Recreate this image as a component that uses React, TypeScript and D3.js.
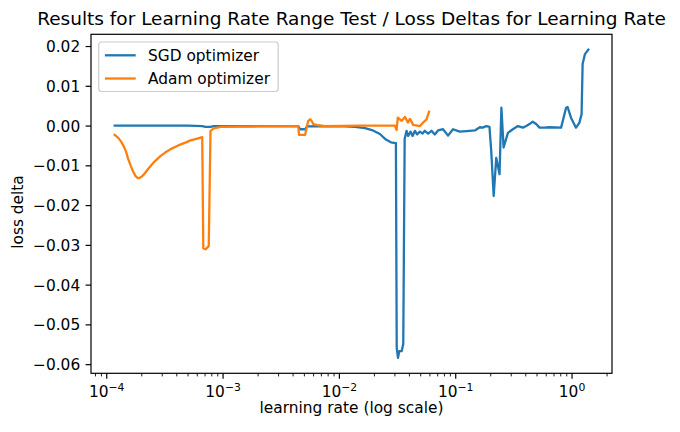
import React from "react";
import * as d3 from "d3";

const sgdLr = [
  1.17e-4, 2.5e-4, 5.0e-4, 6.62e-4, 7.06e-4, 7.8e-4, 8.32e-4, 1.5e-3, 3.0e-3, 4.43e-3,
  4.6e-3, 5.08e-3, 5.26e-3, 7.54e-3, 0.0112, 0.01363, 0.0166, 0.01905, 0.0223, 0.0251,
  0.0277, 0.0306, 0.0311, 0.0319, 0.0327, 0.0343, 0.0354, 0.0364, 0.0378, 0.039,
  0.0409, 0.0426, 0.0446, 0.0466, 0.0492, 0.0519, 0.0542, 0.0579, 0.0619, 0.0661,
  0.0705, 0.0778, 0.0859, 0.0948, 0.108, 0.132, 0.146, 0.161, 0.171, 0.183,
  0.195, 0.202, 0.212, 0.223, 0.238, 0.247, 0.258, 0.281, 0.31, 0.342,
  0.378, 0.404, 0.431, 0.459, 0.492, 0.525, 0.579, 0.638, 0.805, 0.889,
  0.916, 0.979, 1.081, 1.156, 1.208, 1.233, 1.291, 1.38,
];
const sgdLoss = [
  0.0001, 0.0001, 0.0001, 0.0, -0.0002, -0.0002, 0.0, 0.0, 0.0, 0.0,
  -0.0008, -0.0008, -0.0001, 0.0, -0.0001, -0.0002, -0.0005, -0.001, -0.002, -0.0034,
  -0.0041, -0.0043, -0.0558, -0.0583, -0.0566, -0.0566, -0.0548, -0.0032, -0.0012, -0.0025,
  -0.0014, -0.0025, -0.0012, -0.0021, -0.0014, -0.0019, -0.0012, -0.0019, -0.0012, -0.0021,
  -0.0011, -0.0008, -0.0024, -0.0008, -0.0014, -0.0012, -0.0011, -0.0003, -0.0004, 0.0,
  -0.0002, -0.0063, -0.0176, -0.008, -0.0121, 0.0046, -0.0054, -0.0017, -0.0008, 0.0,
  -0.0004, 0.0, 0.0005, 0.0011, 0.0005, -0.0004, -0.0004, -0.0003, -0.0004, 0.0046,
  0.0048, 0.0021, -0.0004, 0.0008, 0.003, 0.0156, 0.0181, 0.0192,
];

const adamLr = [
  1.17e-4, 1.25e-4, 1.32e-4, 1.39e-4, 1.46e-4, 1.53e-4, 1.61e-4, 1.69e-4, 1.77e-4, 1.85e-4,
  1.92e-4, 2.0e-4, 2.09e-4, 2.2e-4, 2.39e-4, 2.6e-4, 2.91e-4, 3.2e-4, 3.55e-4, 3.9e-4,
  4.32e-4, 4.8e-4, 5.26e-4, 5.9e-4, 6.62e-4, 6.76e-4, 7.06e-4, 7.53e-4, 7.8e-4, 8.32e-4,
  9.51e-4, 2.0e-3, 4.43e-3, 4.5e-3, 5.08e-3, 5.26e-3, 5.4e-3, 5.61e-3, 5.8e-3, 5.96e-3,
  6.57e-3, 7.54e-3, 0.015, 0.03, 0.031, 0.0318, 0.0343, 0.0366, 0.0388, 0.0404,
  0.0431, 0.0492, 0.0525, 0.0561, 0.059,
];
const adamLoss = [
  -0.0022, -0.0029, -0.0038, -0.0049, -0.0063, -0.0083, -0.01, -0.0115, -0.0126, -0.0131,
  -0.013, -0.0127, -0.0121, -0.0113, -0.01, -0.0088, -0.0075, -0.0066, -0.0058, -0.0052,
  -0.0046, -0.0041, -0.0036, -0.0032, -0.0028, -0.0307, -0.031, -0.0302, -0.0012, -0.0006,
  -0.0002, -0.0001, 0.0, -0.0022, -0.0022, 0.0, 0.0013, 0.0017, 0.0012, 0.0005,
  0.0002, 0.0, 0.0001, 0.0001, -0.001, 0.0021, 0.0013, 0.0023, 0.0009, 0.0018,
  0.0003, 0.0, 0.0009, 0.0017, 0.0036,
];

const seriesNames = ["SGD optimizer", "Adam optimizer"];
const seriesColors = ["#1f77b4", "#ff7f0e"];
const xMajorTicks = [1e-4, 1e-3, 1e-2, 1e-1, 1];
const xMajorExps = ["−4", "−3", "−2", "−1", "0"];
const yTicks = [-0.06, -0.05, -0.04, -0.03, -0.02, -0.01, 0.0, 0.01, 0.02];

const titleText = "Results for Learning Rate Range Test / Loss Deltas for Learning Rate";
const xLabel = "learning rate (log scale)";
const yLabel = "loss delta";

const W = 680;
const H = 432;
const L = 91;
const R = 612;
const T = 34.3;
const B = 373.3;
const FONT = "DejaVu Sans";
const FS = 15.4;

export default function App() {
  const allLr = [...sgdLr, ...adamLr];
  const allLoss = [...sgdLoss, ...adamLoss];
  const lo = Math.log10(d3.min(allLr)!);
  const hi = Math.log10(d3.max(allLr)!);
  const px = 0.05 * (hi - lo);
  const x = d3.scaleLog().domain([10 ** (lo - px), 10 ** (hi + px)]).range([L, R]);
  const yMin = d3.min(allLoss)!;
  const yMax = d3.max(allLoss)!;
  const py = 0.05 * (yMax - yMin);
  const y = d3.scaleLinear().domain([yMin - py, yMax + py]).range([B, T]);

  const [d0, d1] = x.domain();
  const minor = x
    .ticks()
    .filter((t) => t >= d0 && t <= d1)
    .filter((t) => Math.abs(Math.log10(t) - Math.round(Math.log10(t))) > 1e-6);

  const line = d3
    .line<[number, number]>()
    .x((d) => x(d[0]))
    .y((d) => y(d[1]));

  const sgdPts = sgdLr.map((v, i) => [v, sgdLoss[i]] as [number, number]);
  const adamPts = adamLr.map((v, i) => [v, adamLoss[i]] as [number, number]);
  const series = [sgdPts, adamPts];

  const fmt = (v: number) => (v < -1e-9 ? "−" + Math.abs(v).toFixed(2) : Math.abs(v).toFixed(2));

  const legX = L + 7.7;
  const legY = T + 7.7;

  return (
    <svg
      width={W}
      height={H}
      style={{ position: "absolute", left: 0, top: 0 }}
      fontFamily={FONT}
    >
      <rect x={0} y={0} width={W} height={H} fill="#ffffff" />
      <defs>
        <clipPath id="plotclip">
          <rect x={L} y={T} width={R - L} height={B - T} />
        </clipPath>
      </defs>
      {series.map((pts, i) => (
        <path
          key={i}
          d={line(pts) || ""}
          fill="none"
          stroke={seriesColors[i]}
          strokeWidth={2.3}
          strokeLinejoin="round"
          strokeLinecap="square"
          clipPath="url(#plotclip)"
        />
      ))}
      <rect x={L} y={T} width={R - L} height={B - T} fill="none" stroke="#000" strokeWidth={1.2} />
      {yTicks.map((t) => (
        <g key={t}>
          <line x1={L} x2={L - 5.4} y1={y(t)} y2={y(t)} stroke="#000" strokeWidth={1.2} />
          <text x={L - 10.8} y={y(t)} dy="0.36em" textAnchor="end" fontSize={FS} fill="#000">
            {fmt(t)}
          </text>
        </g>
      ))}
      {minor.map((t) => (
        <line key={t} x1={x(t)} x2={x(t)} y1={B} y2={B + 3.1} stroke="#000" strokeWidth={0.9} />
      ))}
      {xMajorTicks.map((t, i) => (
        <g key={t}>
          <line x1={x(t)} x2={x(t)} y1={B} y2={B + 5.4} stroke="#000" strokeWidth={1.2} />
          <text x={x(t)} y={396.5} textAnchor="middle" fontSize={FS} fill="#000">
            <tspan>10</tspan>
            <tspan dy={-5.5} fontSize={10.8}>
              {xMajorExps[i]}
            </tspan>
          </text>
        </g>
      ))}
      <text x={(L + R) / 2} y={413} textAnchor="middle" fontSize={FS} fill="#000">
        {xLabel}
      </text>
      <text
        transform={`translate(23.3, 212) rotate(-90)`}
        textAnchor="middle"
        fontSize={FS}
        fill="#000"
      >
        {yLabel}
      </text>
      <text x={(L + R) / 2} y={25} textAnchor="middle" fontSize={18.5} fill="#000">
        {titleText}
      </text>
      <rect
        x={legX}
        y={legY}
        width={179.5}
        height={49.5}
        rx={3}
        fill="#ffffff"
        fillOpacity={0.8}
        stroke="#cccccc"
        strokeWidth={1.2}
      />
      {seriesNames.map((n, i) => {
        const cy = legY + 13.3 + i * 23.2;
        return (
          <g key={n}>
            <line
              x1={legX + 6.2}
              x2={legX + 6.2 + 30.8}
              y1={cy}
              y2={cy}
              stroke={seriesColors[i]}
              strokeWidth={2.3}
            />
            <text x={legX + 6.2 + 30.8 + 12.3} y={cy} dy="0.36em" fontSize={FS} fill="#000">
              {n}
            </text>
          </g>
        );
      })}
    </svg>
  );
}
